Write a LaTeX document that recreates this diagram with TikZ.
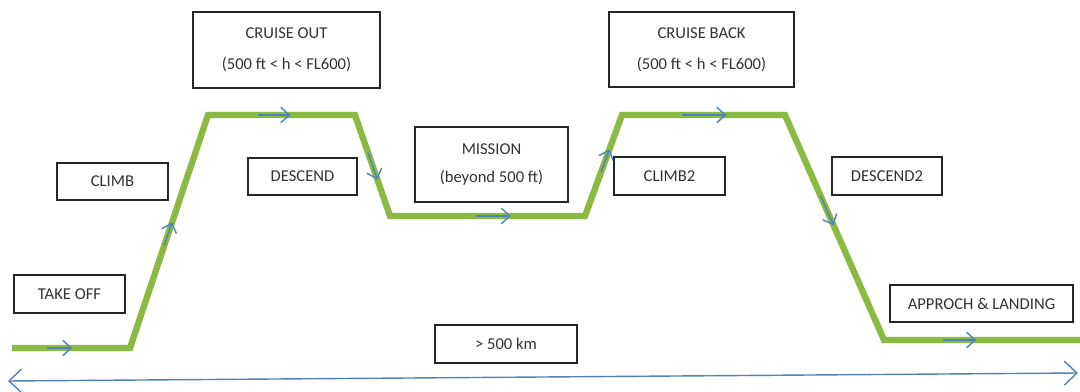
\documentclass[tikz,border=0pt]{standalone}
\usepackage{fontspec}
\setmainfont{Carlito}
\usetikzlibrary{arrows.meta}
\usetikzlibrary{calc}

\definecolor{profilegreen}{RGB}{137,186,65}
\definecolor{flowblue}{RGB}{79,129,189}
\definecolor{boxtext}{RGB}{50,50,50}

\tikzset{
	phase/.style={draw=black!85, line width=0.9pt, text=boxtext, align=center,
		font=\fontsize{11.8}{14}\selectfont, inner sep=0pt},
	profile/.style={profilegreen, line width=4.5pt},
	flow/.style={flowblue, line width=1pt, -{Straight Barb[length=6pt,width=11pt]}},
	span/.style={flowblue, line width=1pt,
		{Straight Barb[length=9pt,width=17pt]}-{Straight Barb[length=9pt,width=17pt]}},
}

\begin{document}
\begin{tikzpicture}[x=0.025cm, y=-0.025cm]
		\useasboundingbox (0,0) rectangle (1080,392);
		% flight profile
		\coordinate (p0) at (12,348);
		\coordinate (p1) at (130,348);
		\coordinate (p2) at (208,115);
		\coordinate (p3) at (355,115);
		\coordinate (p4) at (390,216);
		\coordinate (p5) at (585,216);
		\coordinate (p6) at (622,115);
		\coordinate (p7) at (785,115);
		\coordinate (p8) at (884,340);
		\coordinate (p9) at (1080,340);
		\draw[profile] (p0) -- (p1) -- (p2) -- (p3) -- (p4) -- (p5) -- (p6) -- (p7) -- (p8) -- (p9);
		\draw[flow] ($(p0)!0.30!(p1)$) -- ($(p0)!0.51!(p1)$);
		\draw[flow] ($(p1)!0.44!(p2)$) -- ($(p1)!0.54!(p2)$);
		\draw[flow] ($(p2)!0.34!(p3)$) -- ($(p2)!0.56!(p3)$);
		\draw[flow] ($(p3)!0.37!(p4)$) -- ($(p3)!0.64!(p4)$);
		\draw[flow] ($(p4)!0.44!(p5)$) -- ($(p4)!0.62!(p5)$);
		\draw[flow] ($(p5)!0.43!(p6)$) -- ($(p5)!0.66!(p6)$);
		\draw[flow] ($(p6)!0.37!(p7)$) -- ($(p6)!0.64!(p7)$);
		\draw[flow] ($(p7)!0.36!(p8)$) -- ($(p7)!0.49!(p8)$);
		\draw[flow] ($(p8)!0.30!(p9)$) -- ($(p8)!0.47!(p9)$);
		% distance
		\coordinate (span west) at (8,381);
		\coordinate (span east) at (1078,373);
		\draw[span] (span west) -- (span east);
		% phases
		\node[phase, minimum width=4.675cm, minimum height=1.9cm] (cruise out) at (286.5,50)
			{CRUISE OUT\\[8pt](500 ft < h < FL600)};
		\node[phase, minimum width=4.625cm, minimum height=1.875cm] (cruise back) at (701.5,49.5)
			{CRUISE BACK\\[8pt](500 ft < h < FL600)};
		\node[phase, minimum width=2.775cm, minimum height=0.925cm] (climb) at (112.5,181.5) {CLIMB};
		\node[phase, minimum width=2.725cm, minimum height=0.925cm] (descend) at (302.5,176.5) {DESCEND};
		\node[phase, minimum width=3.825cm, minimum height=1.875cm] (mission) at (491.5,164.5)
			{MISSION\\[6pt](beyond 500 ft)};
		\node[phase, minimum width=2.775cm, minimum height=0.95cm] (climb2) at (669.5,176) {CLIMB2};
		\node[phase, minimum width=2.75cm, minimum height=0.95cm] (descend2) at (887,176) {DESCEND2};
		\node[phase, minimum width=2.775cm, minimum height=0.95cm] (take off) at (69.5,294) {TAKE OFF};
		\node[phase, minimum width=4.575cm, minimum height=0.925cm] (landing) at (981.5,303.5)
			{APPROCH \& LANDING};
		\node[phase, minimum width=3.55cm, minimum height=0.95cm] (range) at (506,344) {> 500 km};
	\end{tikzpicture}
\end{document}
